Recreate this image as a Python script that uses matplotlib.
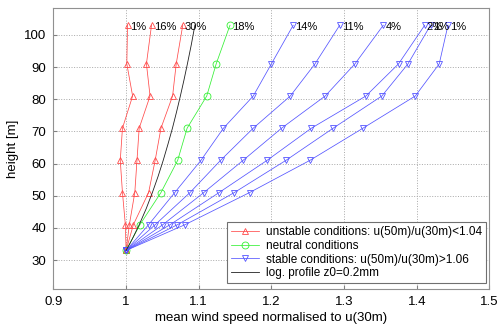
import matplotlib
matplotlib.use('Agg')
import matplotlib.pyplot as plt

plt.rcParams['font.family'] = ['Liberation Sans', 'DejaVu Sans']

# heights of the measurement levels [m]
heights = [33, 41, 51, 61, 71, 81, 91, 103]

# unstable profiles (normalised to u(30m))
unstable = [
    [1.0, 0.999, 0.995, 0.992, 0.995, 1.009, 1.001, 1.002],
    [1.0, 1.0045, 1.012, 1.015, 1.018, 1.033, 1.028, 1.035],
    [1.0, 1.010, 1.031, 1.040, 1.048, 1.064, 1.069, 1.078],
]
unstable_pct = ['1%', '16%', '30%']

# neutral profile
neutral = [1.0, 1.019, 1.048, 1.071, 1.084, 1.111, 1.124, 1.143]
neutral_pct = '18%'

# stable profiles
stable = [
    [1.0, 1.031, 1.067, 1.103, 1.134, 1.175, 1.200, 1.230],
    [1.0, 1.040, 1.088, 1.130, 1.175, 1.226, 1.260, 1.294],
    [1.0, 1.0505, 1.107, 1.161, 1.214, 1.274, 1.315, 1.354],
    [1.0, 1.0605, 1.128, 1.194, 1.255, 1.330, 1.375, 1.411],
    [1.0, 1.0706, 1.149, 1.220, 1.285, 1.352, 1.388, 1.419],
    [1.0, 1.081, 1.170, 1.253, 1.326, 1.398, 1.431, 1.443],
]
stable_pct = ['14%', '11%', '4%', '2%', '1%', '1%']

# log profile z0 = 0.2 mm
log_heights = [33, 35, 37, 41, 46, 51, 56, 61, 66, 71, 76, 81, 86, 91, 97, 103]
log_speed = [1.0, 1.0049, 1.0095, 1.0181, 1.0277, 1.0362, 1.0440, 1.0511,
             1.0576, 1.0638, 1.0694, 1.0747, 1.0797, 1.0844, 1.0898, 1.0947]

fig = plt.figure(figsize=(5.04, 3.27), dpi=100)
ax = fig.add_axes([0.106, 0.116, 0.865, 0.86])

red = '#ff4a4a'
green = '#33f033'
blue = '#5555ff'
mk = dict(markersize=5, markerfacecolor='none', markeredgewidth=0.6, linewidth=0.55)

h_unst = h_neut = h_stab = None
for prof, pct in zip(unstable, unstable_pct):
    h_unst, = ax.plot(prof, heights, color=red, marker='^', markeredgecolor=red, **mk)
    ax.text(prof[-1] + 0.003, heights[-1] - 0.7, pct, fontsize=8, ha='left', va='center')

h_neut, = ax.plot(neutral, heights, color=green, marker='o', markeredgecolor=green, **mk)
ax.text(neutral[-1] + 0.003, heights[-1] - 0.7, neutral_pct, fontsize=8, ha='left', va='center')

for prof, pct in zip(stable, stable_pct):
    h_stab, = ax.plot(prof, heights, color=blue, marker='v', markeredgecolor=blue, **mk)
    ax.text(prof[-1] + 0.003, heights[-1] - 0.7, pct, fontsize=8, ha='left', va='center')

h_log, = ax.plot(log_speed, log_heights, color='#202020', linewidth=0.6)

ax.set_xlim(0.9, 1.5)
ax.set_ylim(21, 108.4)
ax.set_xticks([0.9, 1.0, 1.1, 1.2, 1.3, 1.4, 1.5])
ax.set_xticklabels(['0.9', '1', '1.1', '1.2', '1.3', '1.4', '1.5'])
ax.set_yticks([30, 40, 50, 60, 70, 80, 90, 100])
ax.grid(True, linestyle=':', color='#a8a8a8', linewidth=0.7)
ax.tick_params(direction='in', length=3, color='#808080', labelsize=9.5, pad=5)
for s in ax.spines.values():
    s.set_color('#909090')
    s.set_linewidth(0.8)

ax.set_xlabel('mean wind speed normalised to u(30m)', fontsize=9.5, labelpad=3)
ax.set_ylabel('height [m]', fontsize=9.5, labelpad=4)

leg = ax.legend([h_unst, h_neut, h_stab, h_log],
                ['unstable conditions: u(50m)/u(30m)<1.04',
                 'neutral conditions',
                 'stable conditions: u(50m)/u(30m)>1.06',
                 'log. profile z0=0.2mm'],
                loc='lower right', bbox_to_anchor=(0.993, 0.02),
                fontsize=8.5, fancybox=False, framealpha=1,
                handlelength=2.4, labelspacing=0.15, borderpad=0.35,
                handletextpad=0.6, borderaxespad=0)
leg.get_frame().set_edgecolor('#707070')
leg.get_frame().set_linewidth(0.8)

fig.savefig('out.png', dpi=100)
